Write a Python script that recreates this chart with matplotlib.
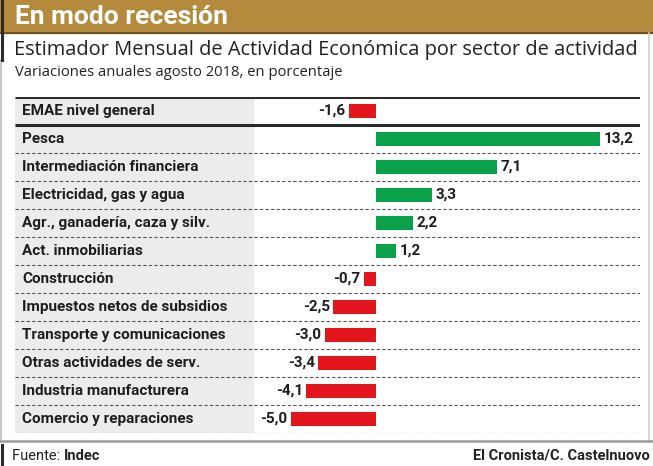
import matplotlib
matplotlib.use('Agg')
import matplotlib.pyplot as plt
from matplotlib import font_manager

names = {f.name for f in font_manager.fontManager.ttflist}
narrow = 'Liberation Sans Narrow' if 'Liberation Sans Narrow' in names else 'Roboto'

sectores = [
  'EMAE nivel general',
  'Pesca',
  'Intermediación financiera',
  'Electricidad, gas y agua',
  'Agr., ganadería, caza y silv.',
  'Act. inmobiliarias',
  'Construcción',
  'Impuestos netos de subsidios',
  'Transporte y comunicaciones',
  'Otras actividades de serv.',
  'Industria manufacturera',
  'Comercio y reparaciones',
]
variacion = [-1.6, 13.2, 7.1, 3.3, 2.2, 1.2, -0.7, -2.5, -3.0, -3.4, -4.1, -5.0]

W, H = 653, 466
GOLD = '#b68a3c'
GREEN = '#0aa14b'
RED = '#e3151d'
DARK = '#2b2b2b'

fig = plt.figure(figsize=(W / 100, H / 100), dpi=100)
fig.patch.set_facecolor('white')

# fondo en pixeles
bg = fig.add_axes([0, 0, 1, 1])
bg.set_xlim(0, W)
bg.set_ylim(H, 0)
bg.axis('off')

bg.add_patch(plt.Rectangle((0, 0), W, 33, color=GOLD, zorder=1))
bg.plot([0, W], [33, 33], color='#5a4420', lw=1.2, zorder=2)
bg.plot([2, 2], [0, 60], color=DARK, lw=2.2, zorder=3)
bg.plot([1, 1], [60, 441], color='#c8c8c8', lw=1.5)
bg.plot([649, 649], [33, 441], color='#d0d0d0', lw=1.2)
bg.plot([0, W], [441, 441], color='#9a9a9a', lw=1.8)
bg.plot([2, 2], [445, 466], color=DARK, lw=2.2)

bg.text(15, 16.5, 'En modo recesión', color='white', fontsize=19, fontweight='bold',
        family=narrow, va='center', ha='left')
bg.text(14, 50, 'Estimador Mensual de Actividad Económica por sector de actividad',
        color='#222222', fontsize=14.4, family='Open Sans', va='center', ha='left')
bg.text(15, 72, 'Variaciones anuales agosto 2018, en porcentaje', color='#222222',
        fontsize=10.6, family='Open Sans', va='center', ha='left')

t = bg.text(12, 456, 'Fuente: ', color='#222222', fontsize=10.5, family=narrow,
            va='center', ha='left')
fig.canvas.draw()
bb = t.get_window_extent()
bg.text(12 + bb.width, 456, 'Indec', color='#222222', fontsize=10.5, family=narrow,
        fontweight='bold', va='center', ha='left')
bg.text(650, 456, 'El Cronista/C. Castelnuovo', color='#222222', fontsize=10.5,
        family=narrow, fontweight='bold', va='center', ha='right')

# tabla de barras
zero_px, scale = 376, 17.0
left_px, right_px, top_px, row_h = 15, 640, 97, 28
n = len(sectores)
bottom_px = top_px + row_h * n
ax = fig.add_axes([left_px / W, (H - bottom_px) / H, (right_px - left_px) / W,
                   (bottom_px - top_px) / H])
ax.set_xlim((left_px - zero_px) / scale, (right_px - zero_px) / scale)
ax.set_ylim(n - 0.5, -0.5)
ax.axis('off')
ax.patch.set_alpha(0)

gray_end = (253 - zero_px) / scale
ax.axvspan((left_px - zero_px) / scale, gray_end, color='#ececec', zorder=0)

for i, (s, v) in enumerate(zip(sectores, variacion)):
  ax.barh(i, v, height=0.5, color=GREEN if v > 0 else RED, zorder=3)
  ax.text((22 - zero_px) / scale, i, s, fontsize=11, fontweight='bold', family=narrow,
          color='#1e1e1e', va='center', ha='left')
  lab = f'{v:.1f}'.replace('.', ',')
  off = 0.2 if v > 0 else -0.2
  ax.text(v + off, i, lab, fontsize=11, fontweight='bold', family=narrow,
          color='#1e1e1e', va='center', ha='left' if v > 0 else 'right')

xl = ax.get_xlim()
ax.plot(xl, [-0.5, -0.5], color=DARK, lw=2.2, solid_capstyle='butt')
ax.plot(xl, [0.5, 0.5], color=DARK, lw=2.2, solid_capstyle='butt')
for k in range(1, n):
  ax.plot(xl, [k + 0.5, k + 0.5], color='#555555', lw=0.8, ls=(0, (3, 2)))

fig.savefig('out.png', dpi=100, facecolor='white')
